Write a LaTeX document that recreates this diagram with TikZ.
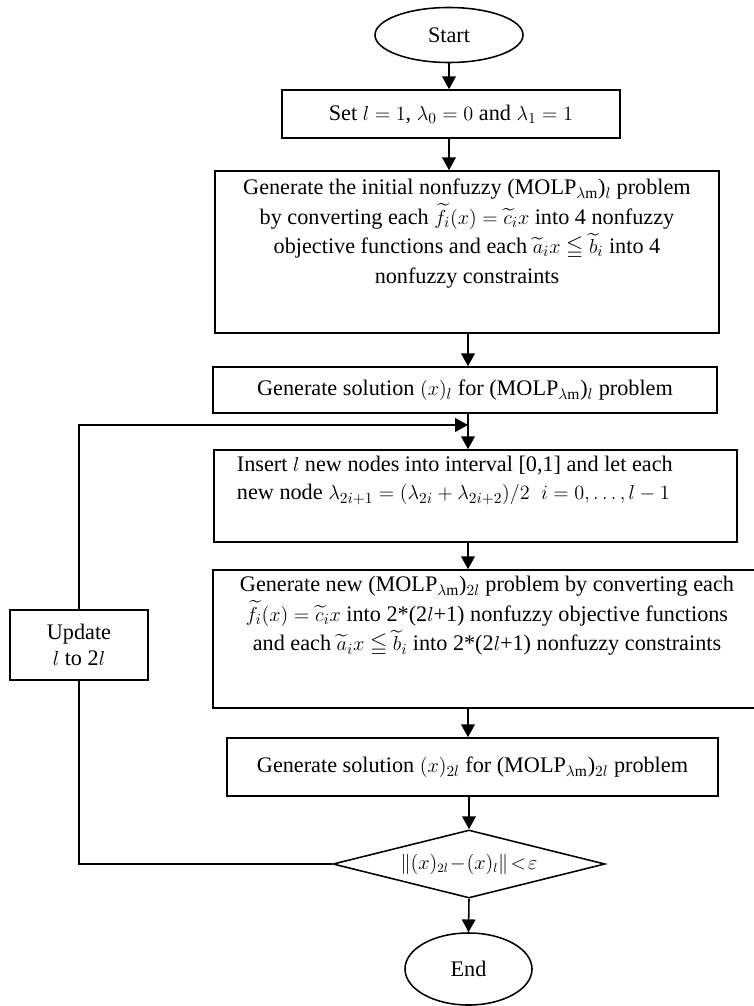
\documentclass[tikz,border=0pt]{standalone}
\usepackage{amsmath,amssymb}
\usepackage{fontspec}
\setmainfont{Liberation Serif}
\usetikzlibrary{shapes.geometric,arrows.meta}

\tikzset{
  flowbox/.style={draw, rectangle, line width=1.1pt, inner sep=0pt, align=center},
  term/.style={draw, ellipse, line width=1.1pt, inner sep=0pt},
  decide/.style={draw, diamond, aspect=4, line width=1.1pt, inner sep=0pt},
  flow/.style={-{Triangle[length=3.2mm,width=3.4mm]}, line width=1.1pt},
  link/.style={line width=1.1pt}
}
\newcommand{\molp}{(MOLP$_{\lambda\mathrm{m}}$)}

\begin{document}
\begin{tikzpicture}[x=0.025cm, y=-0.025cm, font=\fontsize{15.8}{18}\selectfont]
  \useasboundingbox (0,0) rectangle (754,1006);
  \clip (0,0) rectangle (754,1006);

  % main column
  \node[term, minimum width=3.7cm, minimum height=1.375cm] (start) at (449,35) {Start};
  \node[flowbox, minimum width=8.45cm, minimum height=1.2cm] (init) at (451,114)
    {Set $l=1$, $\lambda_0=0$ and $\lambda_1=1$};
  \node[flowbox, minimum width=12.6cm, minimum height=4.05cm, inner ysep=0.2cm] (convert) at (467,252)
    {\parbox[c][3.65cm][t]{12.5cm}{\centering\fontsize{15.8}{21}\selectfont
      Generate the initial nonfuzzy \molp$_l$ problem\\
      by converting each $\widetilde{f}_i(x)=\widetilde{c}_i x$ into 4 nonfuzzy\\
      objective functions and each $\widetilde{a}_i x\leqq\widetilde{b}_i$ into 4\\
      nonfuzzy constraints}};
  \node[flowbox, minimum width=12.6cm, minimum height=1.15cm] (solve) at (465,390)
    {Generate solution $(x)_l$ for \molp$_l$ problem};
  \node[flowbox, minimum width=13.075cm, minimum height=2.3cm, inner ysep=0.16cm] (insert) at (475.5,496)
    {\parbox[c][1.98cm][t]{11.925cm}{\raggedright\fontsize{15.8}{20}\selectfont
      Insert $l$ new nodes into interval [0,1] and let each\\
      new node $\lambda_{2i+1}=(\lambda_{2i}+\lambda_{2i+2})/2\;\; i=0,\ldots,l-1$}};
  \node[flowbox, minimum width=13.7cm, minimum height=3.45cm, inner ysep=0.16cm] (newprob) at (487,639)
    {\parbox[c][3.13cm][t]{13.5cm}{\centering\fontsize{15.8}{21}\selectfont
      Generate new \molp$_{2l}$ problem by converting each\\
      $\widetilde{f}_i(x)=\widetilde{c}_i x$ into 2*(2$l$+1) nonfuzzy objective functions\\
      and each $\widetilde{a}_i x\leqq\widetilde{b}_i$ into 2*(2$l$+1) nonfuzzy constraints}};
  \node[flowbox, minimum width=12.275cm, minimum height=1.45cm] (solvenew) at (472.5,767)
    {Generate solution $(x)_{2l}$ for \molp$_{2l}$ problem};
  \node[decide, minimum width=6.8cm, minimum height=1.7cm, font=\fontsize{13.5}{15}\selectfont] (test) at (469,864)
    {$\|(x)_{2l}\!-\!(x)_l\|\!<\!\varepsilon$};
  \node[term, minimum width=3.175cm, minimum height=1.8cm] (end) at (468.5,969) {End};

  % loop back
  \node[flowbox, minimum width=3.45cm, minimum height=1.75cm] (update) at (79,645)
    {Update\\ $l$ to 2$l$};
  \coordinate (join) at (468,425);

  \draw[flow] (start.south) -- (start.south |- init.north);
  \draw[flow] (init.south -| start) -- (convert.north -| start);
  \draw[flow] (convert.south -| join) -- (solve.north -| join);
  \draw[flow] (solve.south -| join) -- (insert.north -| join);
  \draw[flow] (insert.south -| join) -- (newprob.north -| join);
  \draw[flow] (newprob.south -| join) -- (solvenew.north -| join);
  \draw[flow] (solvenew.south -| test) -- (test.north);
  \draw[flow] (test.south) -- (end.north);

  \draw[link] (test.west) -| (update.south);
  \draw[flow] (update.north) |- (join);
\end{tikzpicture}
\end{document}
